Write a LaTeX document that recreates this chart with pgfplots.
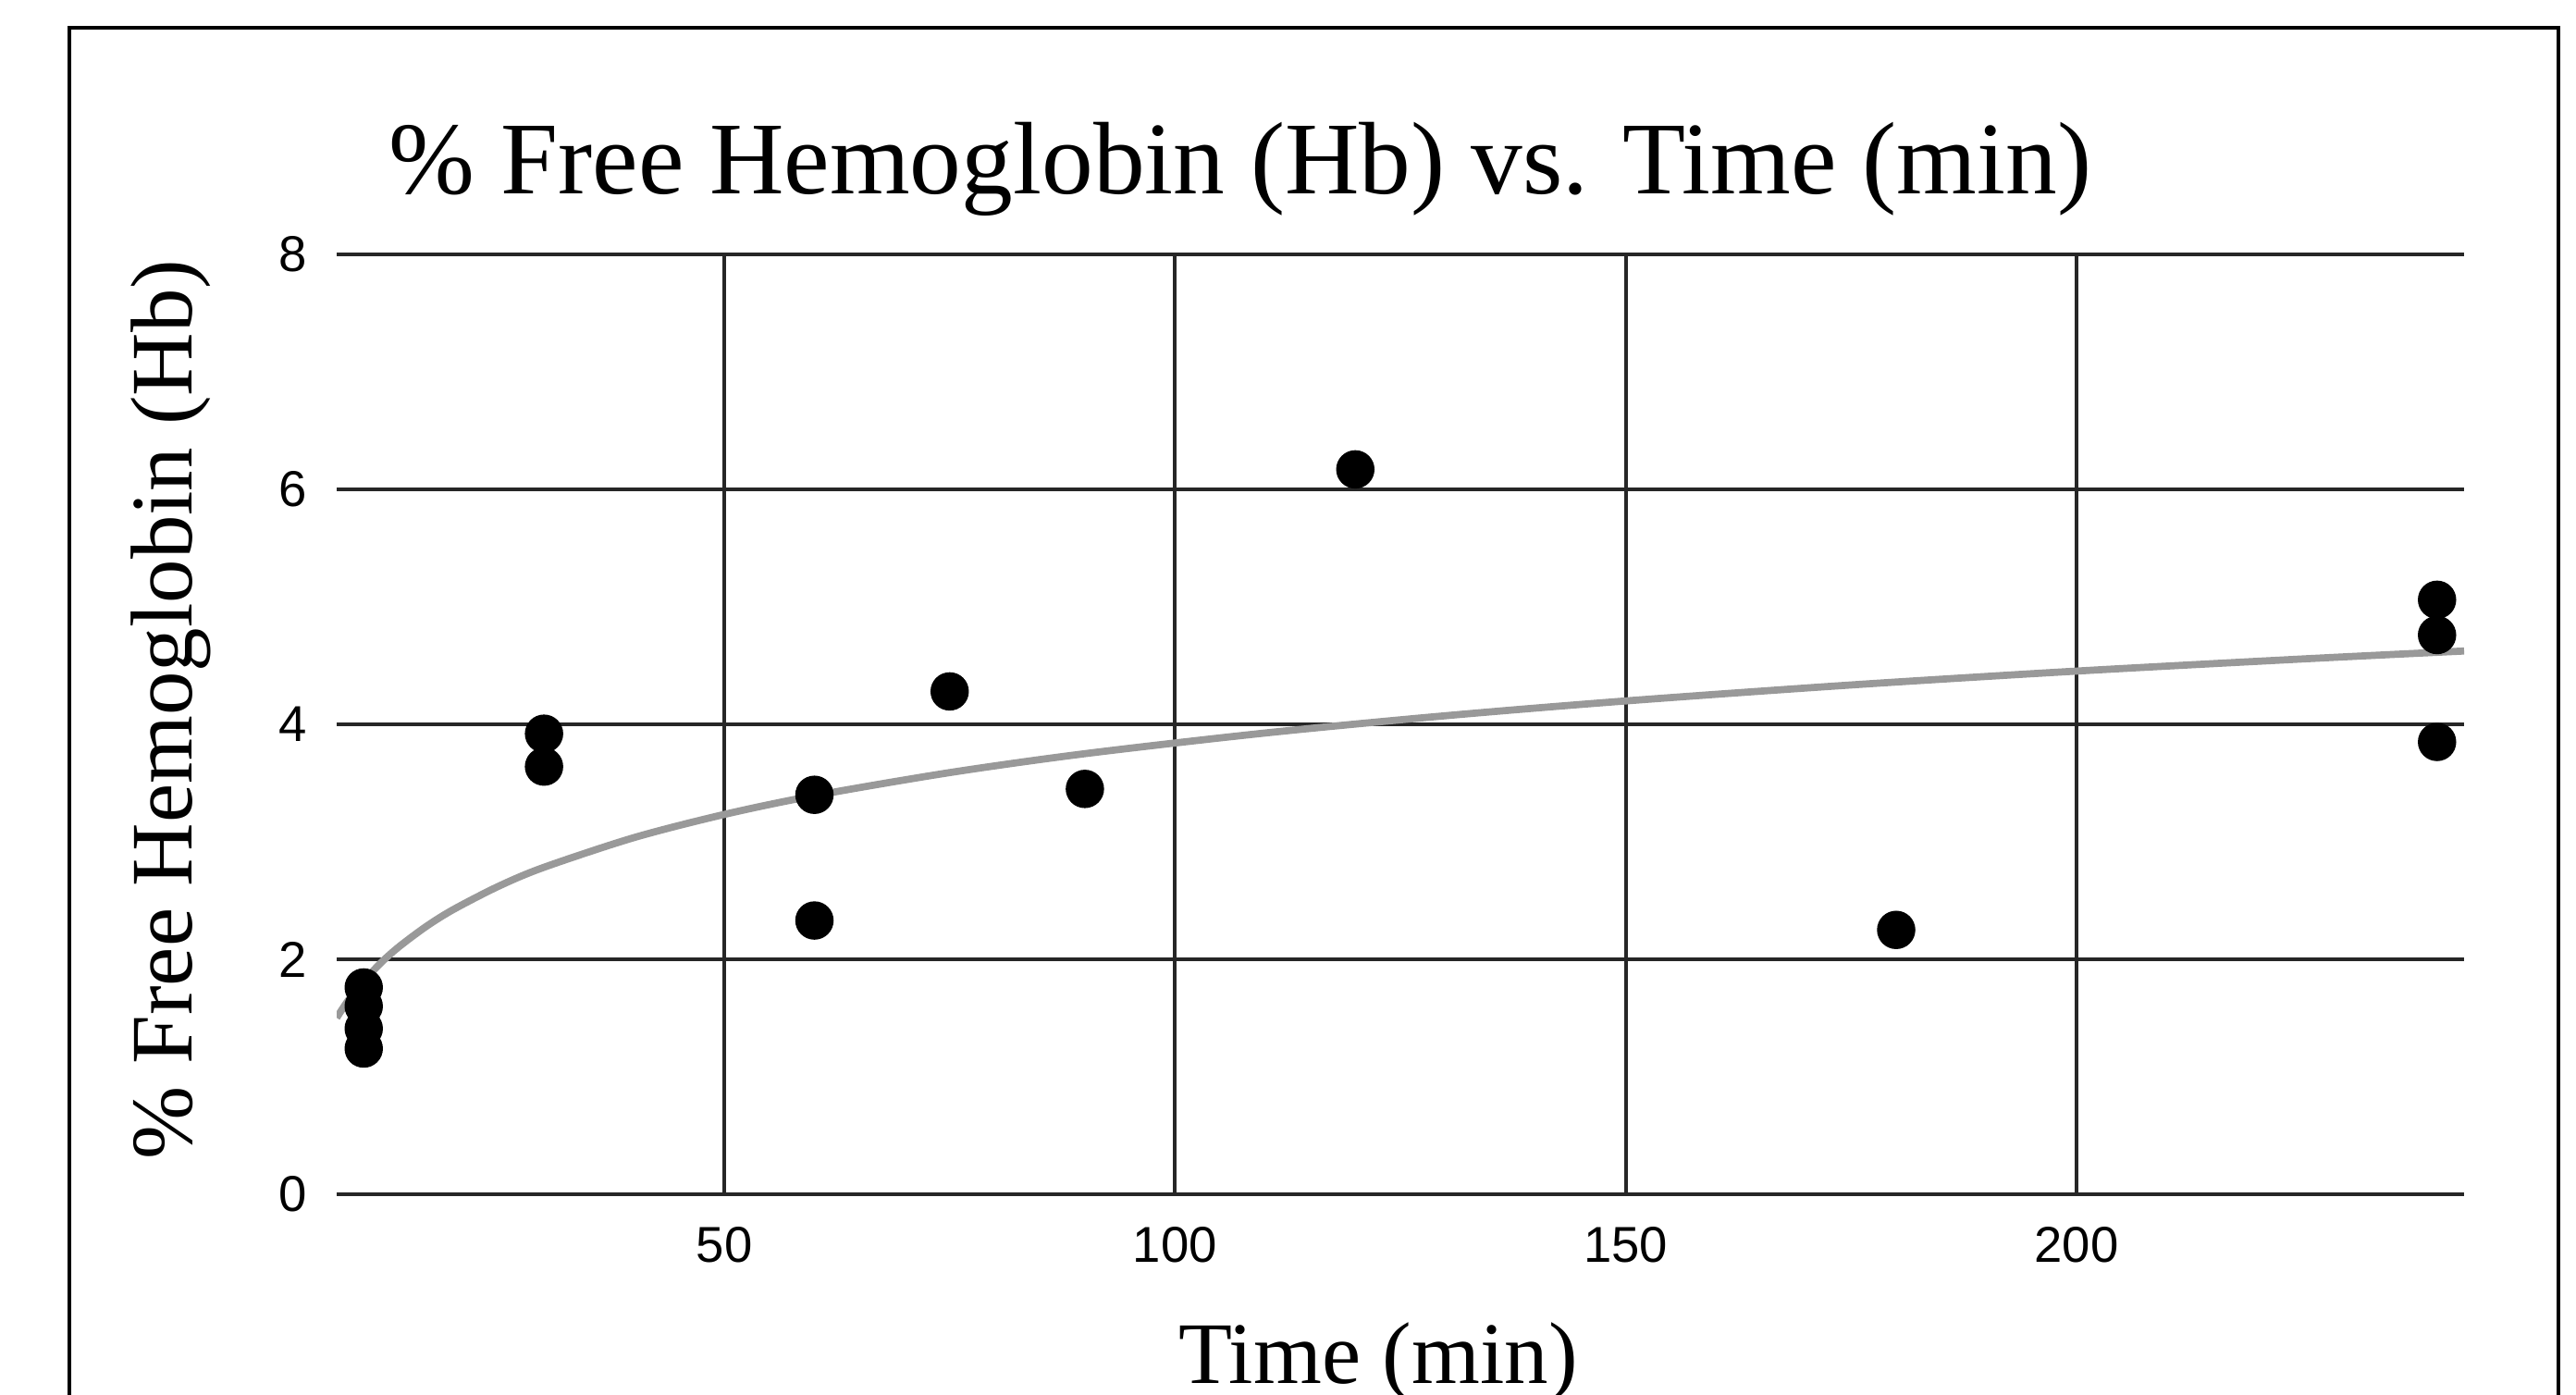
\documentclass[border=0pt]{standalone}
\usepackage{fontspec}
\setmainfont{Liberation Serif}
\setsansfont{Liberation Sans}
\usepackage{pgfplots}
\pgfplotsset{compat=1.18}
\begin{document}
\begin{tikzpicture}
\useasboundingbox (0,0) rectangle (27.85,15.08);
\fill[white] (0,0) rectangle (27.85,15.08);
\draw[black, line width=0.9pt] (0.75,-0.2) -- (0.75,14.78) -- (27.66,14.78) -- (27.66,-0.2);
\begin{axis}[
  at={(3.64cm,2.17cm)}, anchor=south west,
  scale only axis, width=23cm, height=10.16cm,
  xmin=7, xmax=243, ymin=0, ymax=8,
  xtick={50,100,150,200}, ytick={0,2,4,6,8},
  grid=major,
  major grid style={black!85, line width=1.1pt},
  axis line style={draw=none},
  tick style={draw=none},
  /pgf/number format/assume math mode=true,
  ticklabel style={font=\sffamily\fontsize{15.5}{15.5}\selectfont, text=black},
  yticklabel style={anchor=east, inner sep=0pt, xshift=-0.32cm},
  xticklabel style={anchor=north, inner sep=0pt, yshift=-0.35cm},
]
\addplot[smooth, draw=black!40, line width=2.2pt] coordinates {
(7,1.502) (8,1.620) (9,1.724) (10,1.816) (12,1.977) (14,2.112) (17,2.283)
(20,2.426) (25,2.623) (30,2.783) (40,3.036) (50,3.233) (60,3.393) (75,3.589)
(90,3.750) (110,3.926) (130,4.073) (150,4.199) (175,4.335) (200,4.453)
(225,4.556) (243,4.624)};
\addplot[only marks, mark=*, mark size=5.7pt, mark options={fill=black, draw=black}] coordinates {
(10,1.76) (10,1.60) (10,1.41) (10,1.24)
(30,3.92) (30,3.64)
(60,3.40) (60,2.33)
(75,4.28)
(90,3.45)
(120,6.17)
(180,2.25)
(240,5.06) (240,4.76) (240,3.85)};
\end{axis}
\node[anchor=base, font=\fontsize{31.7}{32}\selectfont, inner sep=0pt] at (13.41,12.98) {\% Free Hemoglobin (Hb) vs. Time (min)};
\node[anchor=base, rotate=90, font=\fontsize{27}{27}\selectfont, inner sep=0pt] at (2.07,7.41) {\% Free Hemoglobin (Hb)};
\node[anchor=base, font=\fontsize{27}{27}\selectfont, inner sep=0pt] at (14.90,0.12) {Time (min)};
\end{tikzpicture}
\end{document}
